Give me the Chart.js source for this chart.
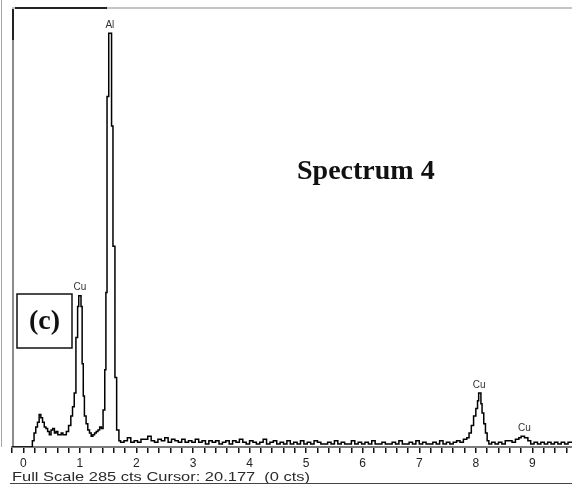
<!DOCTYPE html>
<html><head><meta charset="utf-8">
<script src="https://cdn.jsdelivr.net/npm/chart.js@4.4.1/dist/chart.umd.min.js"></script>
<style>html,body{margin:0;padding:0;background:#fff;overflow:hidden}canvas{display:block}</style>
</head><body>
<canvas id="c" width="572" height="485"></canvas>
<script>
// Energy (keV) of each step start and counts
const energy = [
 -0.20, 0.16, 0.19, 0.22, 0.25, 0.28, 0.31, 0.34, 0.37, 0.40, 0.43, 0.46, 0.49, 0.52, 0.55, 0.58, 0.61, 0.64, 0.67, 0.70,
 0.73, 0.76, 0.80, 0.84, 0.87, 0.90, 0.93, 0.96, 0.98, 1.02, 1.04, 1.06, 1.08, 1.11, 1.14, 1.17, 1.20, 1.23, 1.26, 1.29,
 1.32, 1.35, 1.38, 1.41, 1.44, 1.46, 1.48, 1.51, 1.56, 1.585, 1.62, 1.65, 1.69,
 1.72, 1.78, 1.84, 1.90, 1.96, 2.02, 2.08, 2.14, 2.20, 2.26, 2.32, 2.38, 2.44, 2.50, 2.56, 2.62, 2.68, 2.74, 2.80, 2.86,
 2.92, 2.98, 3.04, 3.10, 3.16, 3.22, 3.28, 3.34, 3.40, 3.46, 3.52, 3.58, 3.64, 3.70, 3.76, 3.82, 3.88, 3.94, 4.00, 4.06,
 4.12, 4.18, 4.24, 4.30, 4.36, 4.42, 4.48, 4.54, 4.60, 4.66, 4.72, 4.78, 4.84, 4.90, 4.96, 5.02, 5.08, 5.14, 5.20, 5.26,
 5.32, 5.38, 5.44, 5.50, 5.56, 5.62, 5.68, 5.74, 5.80, 5.86, 5.92, 5.98, 6.04, 6.10, 6.16, 6.22, 6.28, 6.34, 6.40, 6.46,
 6.52, 6.58, 6.64, 6.70, 6.76, 6.82, 6.88, 6.94, 7.00, 7.06, 7.12, 7.18, 7.24, 7.30, 7.36, 7.42, 7.48, 7.54, 7.60, 7.66,
 7.72, 7.78, 7.84, 7.88, 7.92, 7.96, 8.00, 8.03, 8.05, 8.09, 8.11, 8.14, 8.17, 8.20, 8.23, 8.28, 8.34, 8.40, 8.46, 8.52,
 8.58, 8.64, 8.70, 8.76, 8.80, 8.86, 8.92, 8.97, 9.03, 9.09, 9.15, 9.21, 9.27, 9.33, 9.39, 9.45, 9.51, 9.57, 9.63, 9.70
];
const counts = [
 0, 4, 9, 13, 16, 21, 19, 16, 13, 12, 10, 8, 11, 12, 9, 10, 8, 8, 9, 8,
 8, 10, 14, 20, 26, 35, 71, 91, 98, 91, 54, 33, 20, 15, 11, 9, 7, 8, 9, 10,
 11, 13, 12, 24, 50, 100, 227, 268, 208, 130, 45, 11, 4,
 3, 4, 6, 3, 4, 3, 5, 5, 7, 4, 3, 5, 4, 6, 3, 5, 4, 3, 5, 3,
 4, 3, 5, 3, 4, 2, 4, 3, 4, 2, 3, 4, 2, 4, 3, 5, 3, 2, 4, 3,
 2, 3, 5, 2, 3, 4, 2, 3, 2, 4, 2, 3, 2, 4, 2, 3, 2, 4, 3, 2,
 2, 3, 2, 4, 2, 3, 2, 2, 4, 2, 3, 2, 3, 2, 4, 2, 2, 3, 2, 2,
 3, 2, 4, 2, 2, 3, 2, 4, 2, 3, 2, 2, 3, 2, 4, 2, 3, 2, 3, 4,
 3, 5, 6, 9, 14, 20, 25, 30, 35, 28, 22, 15, 9, 4, 2, 3, 2, 3, 2, 4,
 4, 3, 5, 6, 7, 6, 4, 2, 3, 2, 3, 2, 3, 2, 3, 2, 3, 2, 3, 3
];
const tickLabels = ['0','1','2','3','4','5','6','7','8','9'];
const peakNames = ['Al', 'Cu', 'Cu', 'Cu'];
const peakEnergies = [1.53, 1.00, 8.06, 8.86];
const peakCounts = [268, 98, 35, 7];
const titleText = 'Spectrum 4';
const panelText = '(c)';
const footerText = 'Full Scale 285 cts Cursor: 20.177  (0 cts)';
const xMin = -0.2, xMax = 9.7, yMax = 285;

const points = energy.map((e, i) => ({x: e, y: counts[i]}));

const decor = {
  id: 'decor',
  beforeDraw(chart) {
    const ctx = chart.ctx, a = chart.chartArea;
    ctx.save();
    ctx.fillStyle = '#fff';
    ctx.fillRect(0, 0, chart.width, chart.height);
    ctx.strokeStyle = '#a8a8a8'; ctx.lineWidth = 1;
    ctx.beginPath(); ctx.moveTo(1.5, 0); ctx.lineTo(1.5, a.bottom); ctx.stroke();
    ctx.strokeStyle = '#8c8c8c'; ctx.lineWidth = 2;
    ctx.beginPath(); ctx.moveTo(a.left + 1, a.top); ctx.lineTo(a.left + 1, a.bottom); ctx.stroke();
    ctx.strokeStyle = '#222';
    ctx.beginPath(); ctx.moveTo(a.left + 1, a.top); ctx.lineTo(a.left + 1, a.top + 33); ctx.stroke();
    ctx.strokeStyle = '#c4c4c4'; ctx.lineWidth = 2;
    ctx.beginPath(); ctx.moveTo(a.left, a.top + 1); ctx.lineTo(a.right, a.top + 1); ctx.stroke();
    ctx.strokeStyle = '#222';
    ctx.beginPath(); ctx.moveTo(a.left + 3, a.top + 1); ctx.lineTo(a.left + 95, a.top + 1); ctx.stroke();
    ctx.restore();
  },
  afterDraw(chart) {
    const ctx = chart.ctx, a = chart.chartArea;
    const xs = chart.scales.x, ys = chart.scales.y;
    ctx.save();
    ctx.fillStyle = '#333';
    ctx.font = '10px "Liberation Sans", Arial, sans-serif';
    ctx.textAlign = 'center'; ctx.textBaseline = 'bottom';
    peakNames.forEach((n, i) => {
      ctx.fillText(n, xs.getPixelForValue(peakEnergies[i]), ys.getPixelForValue(peakCounts[i]) - 3);
    });
    ctx.fillStyle = '#111';
    ctx.font = 'bold 28px "Liberation Serif", "Times New Roman", serif';
    ctx.textAlign = 'left'; ctx.textBaseline = 'alphabetic';
    ctx.fillText(titleText, 297, 179);
    ctx.fillStyle = '#fff';
    ctx.fillRect(17, 294, 55, 54);
    ctx.strokeStyle = '#111'; ctx.lineWidth = 1.5;
    ctx.strokeRect(17, 294, 55, 54);
    ctx.fillStyle = '#111';
    ctx.font = 'bold 28px "Liberation Serif", "Times New Roman", serif';
    ctx.textAlign = 'center'; ctx.textBaseline = 'middle';
    ctx.fillText(panelText, 44.5, 322);
    ctx.font = '12.5px "Liberation Sans", Arial, sans-serif';
    ctx.textAlign = 'left'; ctx.textBaseline = 'alphabetic';
    const w = ctx.measureText(footerText).width;
    const target = 298;
    ctx.save();
    ctx.translate(12, 481);
    ctx.scale(target / w, 1);
    ctx.fillStyle = '#2a2a2a';
    ctx.fillText(footerText, 0, 0);
    ctx.restore();
    ctx.strokeStyle = '#444'; ctx.lineWidth = 1;
    ctx.beginPath(); ctx.moveTo(10, 483.5); ctx.lineTo(572, 483.5); ctx.stroke();
    ctx.restore();
  }
};

new Chart(document.getElementById('c'), {
  type: 'line',
  data: { datasets: [{
    data: points,
    borderColor: '#000', borderWidth: 1.5,
    pointRadius: 0, fill: false, stepped: true, tension: 0
  }]},
  options: {
    responsive: false, animation: false, devicePixelRatio: 1,
    layout: { padding: { left: 12, top: 7, right: 0, bottom: 0 } },
    plugins: { legend: { display: false }, tooltip: { enabled: false } },
    scales: {
      x: {
        type: 'linear', min: xMin, max: xMax,
        afterBuildTicks: (s) => {
          const t = [];
          for (let i = -1; i <= 48; i++) t.push({ value: Math.round(i * 2) / 10 });
          s.ticks = t;
        },
        afterFit: (s) => { s.height = 38; },
        border: { display: true, color: '#7a7a7a', width: 2 },
        grid: { display: true, drawOnChartArea: false, drawTicks: true, tickLength: 6, color: '#111', lineWidth: 1.5 },
        ticks: {
          autoSkip: false, maxRotation: 0, minRotation: 0, padding: 3,
          color: '#222', font: { size: 12, family: '"Liberation Sans", Arial, sans-serif' },
          callback: (v) => { const r = Math.round(v); return (Math.abs(v - r) < 1e-6 && r >= 0 && r < tickLabels.length) ? tickLabels[r] : ''; }
        }
      },
      y: { display: false, min: 0, max: yMax }
    }
  },
  plugins: [decor]
});
</script>
</body></html>
